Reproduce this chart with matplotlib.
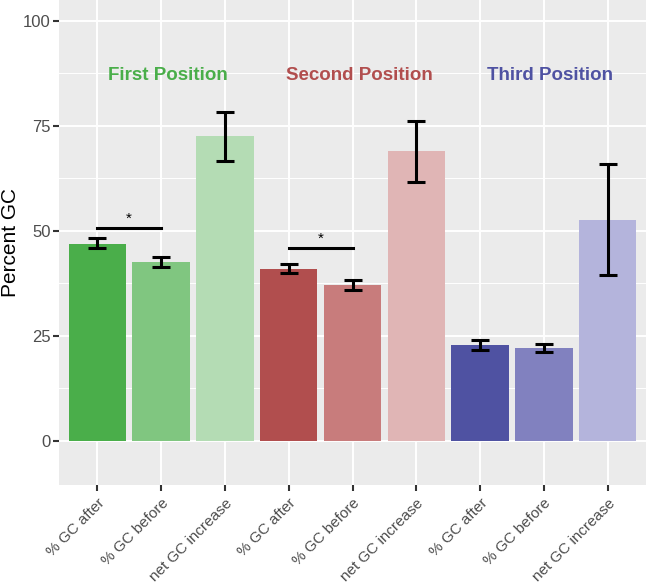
import matplotlib
matplotlib.use("Agg")
import matplotlib.pyplot as plt
import matplotlib.transforms as mtransforms
import numpy as np

plt.rcParams["font.family"] = ["Liberation Sans", "DejaVu Sans"]

# data
labels = ["% GC after", "% GC before", "net GC increase"] * 3
values = [47.0, 42.7, 72.6, 41.0, 37.1, 69.0, 22.9, 22.1, 52.7]
err_lo = [45.9, 41.5, 66.7, 39.9, 36.0, 61.7, 21.7, 21.1, 39.5]
err_hi = [48.3, 43.9, 78.4, 42.1, 38.3, 76.2, 24.1, 23.1, 66.0]
colors = ["#4aae4a", "#80c680", "#b4dcb4",
          "#b14e4e", "#c87c7c", "#e0b5b5",
          "#4f52a2", "#8181bf", "#b4b4dc"]
groups = ["First Position", "Second Position", "Third Position"]
group_colors = ["#4aae4a", "#b14e4e", "#4f52a2"]
sig_pairs = [(1, 2, 50.8), (4, 5, 46.0)]

x = np.arange(1, len(values) + 1)

fig = plt.figure(figsize=(6.46, 5.85), dpi=100)
ax = fig.add_axes([59 / 646, 1 - 485 / 585, 1 - 59 / 646, 485 / 585])
ax.set_facecolor("#ebebeb")
for s in ax.spines.values():
    s.set_visible(False)

ax.set_xlim(0.4, 9.6)
ax.set_ylim(-10.5, 105)
ax.set_yticks([0, 25, 50, 75, 100])
ax.set_yticks([12.5, 37.5, 62.5, 87.5], minor=True)
ax.grid(which="major", color="white", linewidth=1.4)
ax.grid(which="minor", axis="y", color="white", linewidth=0.7)
ax.set_axisbelow(True)

ax.bar(x, values, width=0.9, color=colors, zorder=2)
yerr = [np.array(values) - np.array(err_lo), np.array(err_hi) - np.array(values)]
ax.errorbar(x, values, yerr=yerr, fmt="none", ecolor="black",
            elinewidth=2.2, capsize=6.5, capthick=2.2, zorder=3)

for a, b, h in sig_pairs:
    ax.plot([a, b], [h, h], color="black", lw=2.2, zorder=3)
    ax.text((a + b) / 2, h + 0.5, "*", ha="center", va="bottom", fontsize=11)

for i, (g, c) in enumerate(zip(groups, group_colors)):
    ax.text(2.1 + 3 * i, 87.0, g, color=c, ha="center", va="center",
            fontsize=13.5, fontweight="bold")

ax.set_xticks(x)
ax.set_xticklabels(labels, rotation=45, ha="right", rotation_mode="anchor",
                   fontsize=11, color="#4d4d4d")
shift = mtransforms.ScaledTranslation(-5 / 100, 0, fig.dpi_scale_trans)
for lab in ax.get_xticklabels():
    lab.set_transform(lab.get_transform() + shift)
ax.tick_params(axis="y", labelsize=12, labelcolor="#4d4d4d", length=4,
               width=1.5, color="#333333", pad=2)
ax.tick_params(axis="x", length=4, width=1.5, color="#333333", pad=4)
ax.tick_params(which="minor", length=0)
ax.set_ylabel("Percent GC", fontsize=15)
ax.yaxis.set_label_coords(-0.066, 0.5)

fig.savefig("out.png", dpi=100)
